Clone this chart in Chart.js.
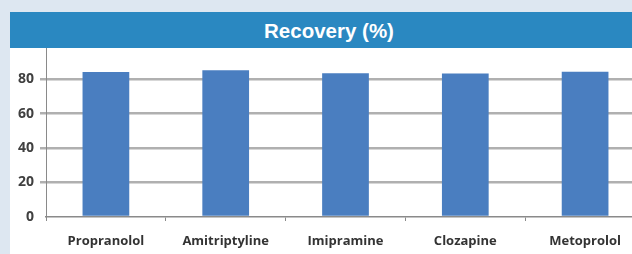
<!DOCTYPE html>
<html>
<head>
<meta charset="utf-8">
<script src="https://cdn.jsdelivr.net/npm/chart.js@4"></script>
<style>
  html, body { margin:0; padding:0; width:632px; height:254px; overflow:hidden; background:#dde7f1; }
  #panel { position:absolute; left:10px; top:12px; width:640px; height:250px; background:#ffffff; }
  #header { position:absolute; left:0; top:0; width:638px; height:36px; background:#2a88c1;
            color:#fff; font-family:"Liberation Sans", Arial, sans-serif; font-weight:bold; font-size:20.5px;
            line-height:37px; text-align:center; }
  #wrap { position:absolute; left:0; top:36px; width:640px; height:206px; }
</style>
</head>
<body>
<div id="panel">
  <div id="header">Recovery (%)</div>
  <div id="wrap"><canvas id="c" width="640" height="206"></canvas></div>
</div>
<script>
const categories = ["Propranolol", "Amitriptyline", "Imipramine", "Clozapine", "Metoprolol"];
const recovery = [84.1, 85.1, 83.3, 83.2, 84.2];
const yTicks = [0, 20, 40, 60, 80];

new Chart(document.getElementById('c'), {
  type: 'bar',
  data: {
    labels: categories,
    datasets: [{
      data: recovery,
      backgroundColor: '#4a7ec0',
      borderWidth: 0,
      barPercentage: 0.39,
      categoryPercentage: 1
    }]
  },
  options: {
    responsive: false,
    animation: false,
    layout: { padding: { left: 0, right: 5, top: 0, bottom: 0 } },
    plugins: { legend: { display: false }, tooltip: { enabled: false } },
    scales: {
      x: {
        offset: true,
        grid: { offset: true, drawOnChartArea: false, drawTicks: true, tickLength: 4, color: '#8a8a8a', lineWidth: 1 },
        border: { display: true, color: '#8a8a8a', width: 1.5 },
        ticks: { color: '#333333', font: { family: '"Open Sans", sans-serif', weight: 'bold', size: 13 }, padding: 12, maxRotation: 0, autoSkip: false },
        afterFit: (s) => { s.height = 37; s.paddingLeft = 0; s.paddingRight = 0; }
      },
      y: {
        min: 0, max: 98,
        afterBuildTicks: (s) => { s.ticks = yTicks.map(v => ({ value: v })); },
        grid: {
          color: (ctx) => ctx.tick && ctx.tick.value === 0 ? 'rgba(0,0,0,0)' : '#b0b0b0',
          lineWidth: 2.5, tickLength: 6, drawTicks: true
        },
        border: { display: true, color: '#8a8a8a', width: 1 },
        ticks: { color: '#404040', font: { family: '"Open Sans", sans-serif', weight: 'bold', size: 14 }, padding: 6 },
        afterFit: (s) => { s.width = 36; s.paddingTop = 0; s.paddingBottom = 0; }
      }
    }
  }
});
</script>
</body>
</html>
